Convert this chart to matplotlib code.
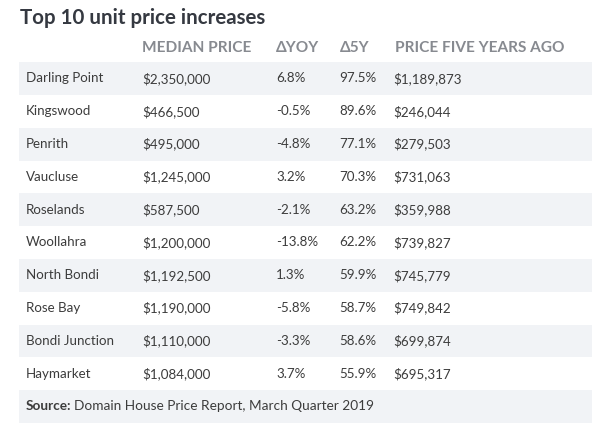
import matplotlib
matplotlib.use("Agg")
import matplotlib.pyplot as plt
from matplotlib.patches import Rectangle

title = "Top 10 unit price increases"
headers = ["MEDIAN PRICE", "\u0394YOY", "\u03945Y", "PRICE FIVE YEARS AGO"]
suburbs = ["Darling Point", "Kingswood", "Penrith", "Vaucluse", "Roselands",
           "Woollahra", "North Bondi", "Rose Bay", "Bondi Junction", "Haymarket"]
median_price = ["$2,350,000", "$466,500", "$495,000", "$1,245,000", "$587,500",
                "$1,200,000", "$1,192,500", "$1,190,000", "$1,110,000", "$1,084,000"]
yoy = ["6.8%", "-0.5%", "-4.8%", "3.2%", "-2.1%", "-13.8%", "1.3%", "-5.8%", "-3.3%", "3.7%"]
five_y = ["97.5%", "89.6%", "77.1%", "70.3%", "63.2%", "62.2%", "59.9%", "58.7%", "58.6%", "55.9%"]
price_5y_ago = ["$1,189,873", "$246,044", "$279,503", "$731,063", "$359,988",
                "$739,827", "$745,779", "$749,842", "$699,874", "$695,317"]
source_label = "Source:"
source_text = "Domain House Price Report, March Quarter 2019"

W, H = 607, 432
fig = plt.figure(figsize=(W / 100, H / 100), dpi=100)
ax = fig.add_axes([0, 0, 1, 1])
ax.set_xlim(0, W)
ax.set_ylim(H, 0)
ax.axis("off")

FONT = "Lato"
txt_color = "#3c3c3c"
hdr_color = "#878a90"
band_color = "#f1f3f6"

col_x = [26, 142, 276, 339, 393]
hdr_x = [142, 276, 340, 395]
row0 = 78.5
pitch = 32.8
band_left, band_right = 19, 592

ax.text(20, 24, title, fontsize=14.8, fontweight="bold", color="#353941",
        family=FONT, va="baseline", ha="left")

for hx, h in zip(hdr_x, headers):
    ax.text(hx, 52, h, fontsize=11.1, fontweight="bold", color=hdr_color,
            family=[FONT, "DejaVu Sans"], va="baseline", ha="left")

n = len(suburbs)
for i in range(n + 1):
    yc = row0 + i * pitch
    if i % 2 == 0:
        ax.add_patch(Rectangle((band_left, yc - pitch / 2), band_right - band_left, pitch,
                               facecolor=band_color, edgecolor="none", zorder=0))
    if i < n:
        vals = [suburbs[i], median_price[i], yoy[i], five_y[i], price_5y_ago[i]]
        for cx, v in zip(col_x, vals):
            ax.text(cx, yc, v, fontsize=9.6, color=txt_color, family=FONT,
                    va="center", ha="left", zorder=2)
    else:
        t = ax.text(26, yc, source_label, fontsize=9.8, color=txt_color, family=FONT,
                    fontweight="bold", va="center", ha="left", zorder=2)
        fig.canvas.draw()
        bb = t.get_window_extent()
        x_end = ax.transData.inverted().transform((bb.x1, bb.y0))[0]
        ax.text(x_end + 3, yc, source_text, fontsize=9.8, color=txt_color, family=FONT,
                va="center", ha="left", zorder=2)

fig.savefig("out.png", dpi=100, facecolor="white")
